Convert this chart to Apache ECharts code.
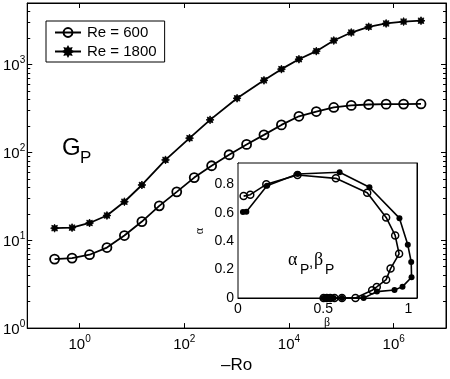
<!DOCTYPE html>
<html>
<head>
<meta charset="utf-8">
<script src="https://cdn.jsdelivr.net/npm/echarts@6/dist/echarts.min.js"></script>
<style>
  html, body { margin: 0; padding: 0; background: #fff; }
  #main { width: 450px; height: 379px; }
</style>
</head>
<body>
<div id="main"></div>
<script>
// main plot: G_P against -Ro
var ro600 = [0.333, 0.718, 1.55, 3.33, 7.18, 15.5, 33.3, 71.8, 155, 333, 718, 1550, 3330, 7180, 15500, 33300, 71800, 155000, 333000, 718000, 1550000, 3330000];
var gp600 = [6.1, 6.26, 6.84, 8.25, 11.3, 16.3, 24.6, 35.5, 51.6, 70.3, 93.8, 123, 158, 205, 257, 291, 324, 342, 350, 353, 354, 355];
var ro1800 = [0.333, 0.718, 1.55, 3.33, 7.18, 15.5, 43.8, 126, 311, 1020, 3330, 7180, 15500, 33300, 71800, 155000, 333000, 718000, 1550000, 3330000];
var gp1800 = [13.7, 13.9, 15.7, 19.1, 27.4, 42.5, 82, 145, 234, 412, 659, 884, 1146, 1416, 1870, 2307, 2680, 2925, 3070, 3143];

// inset: alpha_P against beta_P
var beta600 = [0.033, 0.072, 0.166, 0.349, 0.574, 0.758, 0.869, 0.922, 0.945, 0.895, 0.869, 0.814, 0.787, 0.689, 0.61, 0.566, 0.541, 0.521, 0.502];
var alpha600 = [0.717, 0.727, 0.8, 0.866, 0.842, 0.741, 0.567, 0.44, 0.311, 0.207, 0.129, 0.078, 0.054, 0, 0, 0, 0, 0, 0];
var beta1800 = [0.029, 0.049, 0.17, 0.35, 0.596, 0.771, 0.947, 0.996, 1.016, 1.018, 0.965, 0.918, 0.815, 0.737, 0.61, 0.561, 0.541, 0.522, 0.502];
var alpha1800 = [0.605, 0.607, 0.79, 0.873, 0.885, 0.779, 0.562, 0.374, 0.254, 0.146, 0.08, 0.056, 0.045, 0, 0, 0, 0, 0, 0];

var names = ['Re = 600', 'Re = 1800'];
var xExpTicks = [0, 2, 4, 6];

var SANS = 'Liberation Sans, Arial, sans-serif';
var SERIF = 'Liberation Serif, Times New Roman, serif';
var starPath = 'path://M20,10L15.6,12.3L17.07,17.07L12.3,15.6L10,20L7.7,15.6L2.93,17.07L4.4,12.3L0,10L4.4,7.7L2.93,2.93L7.7,4.4L10,0L12.3,4.4L17.07,2.93L15.6,7.7Z';

function zip(a, b) {
  var out = [];
  for (var i = 0; i < a.length; i++) out.push([a[i], b[i]]);
  return out;
}

var powRich = {
  b: { fontSize: 15, fontFamily: SANS, color: '#000', lineHeight: 18, verticalAlign: 'bottom' },
  s: { fontSize: 10, fontFamily: SANS, color: '#000', lineHeight: 8, verticalAlign: 'top' }
};
function powLabel(e) {
  return '{b|10}{s|' + e + '}';
}

var chartDom = document.getElementById('main');
var myChart = echarts.init(chartDom, null, { renderer: 'canvas' });

var tickIn = { show: true, inside: true, length: 5, lineStyle: { color: '#000', width: 1 } };
var line0 = { show: true, onZero: false, lineStyle: { color: '#000', width: 1 } };

var option = {
  animation: false,
  backgroundColor: '#fff',
  grid: [
    { left: 26, top: 3, right: 4, bottom: 45, show: true, borderColor: '#000', borderWidth: 1, backgroundColor: '#fff', containLabel: false },
    { left: 238, top: 163, width: 179, height: 135, show: true, borderColor: '#000', borderWidth: 1, backgroundColor: '#fff', containLabel: false, z: 5 }
  ],
  legend: {
    data: names,
    orient: 'vertical',
    left: 46,
    top: 21,
    padding: [4, 8, 3, 8],
    itemWidth: 26,
    itemHeight: 11,
    itemGap: 4,
    backgroundColor: '#fff',
    borderColor: '#000',
    borderWidth: 1,
    borderRadius: 0,
    selectedMode: false,
    textStyle: { fontSize: 15, fontFamily: SANS, color: '#000', padding: [0, 0, 0, 1] }
  },
  xAxis: [
    { type: 'log', gridIndex: 0, min: 0.1, max: 1e7, logBase: 10, axisLine: line0, axisTick: { show: false }, axisLabel: { show: false }, splitLine: { show: false } },
    { type: 'value', gridIndex: 0, min: -1, max: 7, position: 'bottom', axisLine: { show: false },
      axisTick: { show: true, inside: true, length: 5, customValues: xExpTicks, lineStyle: { color: '#000' } },
      axisLabel: { show: true, customValues: xExpTicks, margin: 6, formatter: function (v) { return powLabel(v); }, rich: powRich },
      splitLine: { show: false },
      name: '\u2013Ro', nameLocation: 'middle', nameGap: 20,
      nameTextStyle: { fontSize: 17, fontFamily: SANS, color: '#000' } },
    { type: 'value', gridIndex: 0, min: -1, max: 7, position: 'top', axisLine: line0,
      axisTick: { show: true, inside: true, length: 5, customValues: xExpTicks, lineStyle: { color: '#000' } },
      axisLabel: { show: false }, splitLine: { show: false } },
    { type: 'value', gridIndex: 1, min: 0, max: 1.05, interval: 0.5, axisLine: line0, axisTick: tickIn,
      axisLabel: { fontSize: 14, fontFamily: SANS, color: '#000', margin: 4, showMaxLabel: false,
        formatter: function (v) { return Math.abs(v * 2 - Math.round(v * 2)) < 1e-6 ? String(v) : ''; } },
      splitLine: { show: false } },
    { type: 'value', gridIndex: 1, min: 0, max: 1.05, interval: 0.5, position: 'top', axisLine: line0, axisTick: tickIn, axisLabel: { show: false }, splitLine: { show: false } }
  ],
  yAxis: [
    { type: 'log', gridIndex: 0, min: 1, max: 5000, logBase: 10, axisLine: line0, axisTick: tickIn,
      minorTick: { show: true, splitNumber: 9, length: 3, lineStyle: { color: '#000' } },
      axisLabel: { margin: 2, rich: powRich, formatter: function (v) {
        var e = Math.log10(v); var r = Math.round(e);
        return Math.abs(e - r) < 1e-6 ? powLabel(r) : '';
      } },
      splitLine: { show: false } },
    { type: 'log', gridIndex: 0, min: 1, max: 5000, logBase: 10, position: 'right', axisLine: line0, axisTick: tickIn,
      minorTick: { show: true, splitNumber: 9, length: 3, lineStyle: { color: '#000' } },
      axisLabel: { show: false }, splitLine: { show: false } },
    { type: 'value', gridIndex: 1, min: 0, max: 0.95, interval: 0.2, axisLine: line0, axisTick: tickIn,
      axisLabel: { fontSize: 14, fontFamily: SANS, color: '#000', margin: 4, showMaxLabel: false },
      splitLine: { show: false } },
    { type: 'value', gridIndex: 1, min: 0, max: 0.95, interval: 0.2, position: 'right', axisLine: line0, axisTick: tickIn, axisLabel: { show: false }, splitLine: { show: false } }
  ],
  graphic: [
    { type: 'text', z: 100, style: { x: 62, y: 148, text: 'G', font: '24px ' + SANS, fill: '#000', textVerticalAlign: 'middle' } },
    { type: 'text', z: 100, style: { x: 80, y: 158.5, text: 'P', font: '17px ' + SANS, fill: '#000', textVerticalAlign: 'middle' } },
    { type: 'text', z: 100, rotation: Math.PI / 2, x: 200, y: 231, style: { x: 0, y: 0, text: '\u03b1', font: '12px ' + SERIF, fill: '#000', textAlign: 'center', textVerticalAlign: 'middle' } },
    { type: 'text', z: 100, style: { x: 327, y: 323, text: '\u03b2', font: '12px ' + SERIF, fill: '#000', textAlign: 'center', textVerticalAlign: 'middle' } },
    { type: 'text', z: 100, style: { x: 288, y: 260, text: '\u03b1', font: '18px ' + SERIF, fill: '#000', textVerticalAlign: 'middle' } },
    { type: 'text', z: 100, style: { x: 300, y: 270, text: 'P', font: '14px ' + SANS, fill: '#000', textVerticalAlign: 'middle' } },
    { type: 'text', z: 100, style: { x: 309, y: 263, text: ',', font: '15px ' + SANS, fill: '#000', textVerticalAlign: 'middle' } },
    { type: 'text', z: 100, style: { x: 314, y: 260, text: '\u03b2', font: '18px ' + SERIF, fill: '#000', textVerticalAlign: 'middle' } },
    { type: 'text', z: 100, style: { x: 325, y: 270, text: 'P', font: '14px ' + SANS, fill: '#000', textVerticalAlign: 'middle' } }
  ],
  series: [
    { name: names[0], type: 'line', xAxisIndex: 0, yAxisIndex: 0, data: zip(ro600, gp600),
      symbol: 'circle', symbolSize: 9, showAllSymbol: true,
      itemStyle: { color: 'rgba(255,255,255,0)', borderColor: '#000', borderWidth: 1.8 },
      lineStyle: { color: '#000', width: 1.8 } },
    { name: names[1], type: 'line', xAxisIndex: 0, yAxisIndex: 0, data: zip(ro1800, gp1800),
      symbol: starPath, symbolSize: 8, showAllSymbol: true,
      itemStyle: { color: '#000', borderColor: '#000', borderWidth: 0.8 },
      lineStyle: { color: '#000', width: 1.8 } },
    { name: names[0], type: 'line', xAxisIndex: 3, yAxisIndex: 2, data: zip(beta600, alpha600), z: 6,
      symbol: 'circle', symbolSize: 7, showAllSymbol: true, clip: false,
      itemStyle: { color: 'rgba(255,255,255,0)', borderColor: '#000', borderWidth: 1.5 },
      lineStyle: { color: '#000', width: 1.6 } },
    { name: names[1], type: 'line', xAxisIndex: 3, yAxisIndex: 2, data: zip(beta1800, alpha1800), z: 7,
      symbol: 'circle', symbolSize: 6, showAllSymbol: true, clip: false,
      itemStyle: { color: '#000', borderColor: '#000', borderWidth: 0 },
      lineStyle: { color: '#000', width: 1.6 } }
  ]
};
myChart.setOption(option);
</script>
</body>
</html>
